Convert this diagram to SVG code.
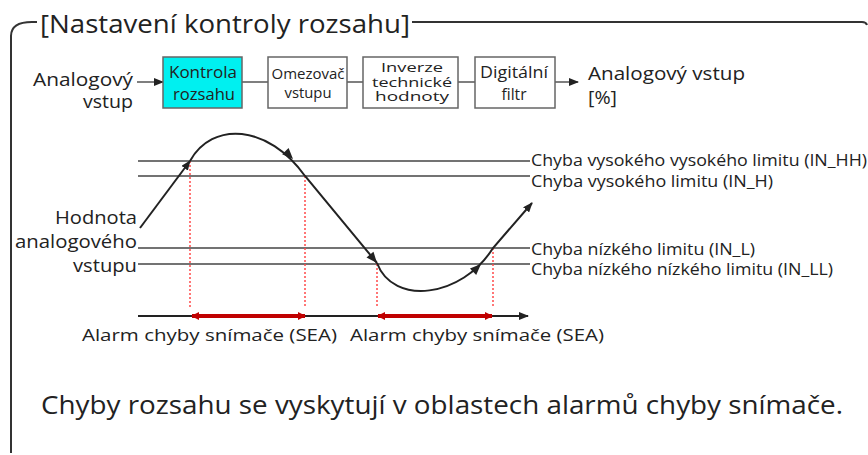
<svg xmlns="http://www.w3.org/2000/svg" width="868" height="455" viewBox="0 0 868 455">
<style>
text{font-family:"Open Sans","Noto Sans","DejaVu Sans",sans-serif;fill:#222}
.box{stroke:#666;stroke-width:1.5;fill:#fff}
.cyan{fill:#00f0f0}
.frame{fill:none;stroke:#333;stroke-width:2}
.conn{stroke:#555;stroke-width:1.5;fill:none}
.lim{stroke:#444;stroke-width:1.5}
.curve{stroke:#222;stroke-width:2;fill:none}
.dash{stroke:#ff4a4a;stroke-width:1.5;stroke-dasharray:2 2}
.sea{stroke:#c00000;stroke-width:4}
.m{text-anchor:middle}
.e{text-anchor:end}
</style>
<defs>
<marker id="ah" markerWidth="10" markerHeight="8" refX="9" refY="4" orient="auto" markerUnits="userSpaceOnUse">
<path d="M0,0 L10,4 L0,8 z" fill="#222"/>
</marker>
<marker id="rh" markerWidth="8" markerHeight="8" refX="7" refY="4" orient="auto-start-reverse" markerUnits="userSpaceOnUse">
<path d="M0,0 L8,4 L0,8 z" fill="#c00000"/>
</marker>
<path id="tri" d="M0,0 L-11,-4.5 L-11,4.5 z" fill="#222"/>
</defs>

<g id="frame">
<path class="frame" d="M11,453 L11,36 Q11,22 32,22 L37,22"/>
<path class="frame" d="M412,22 L862,22 Q866,22 867,25"/>
<text x="40" y="33" font-size="25" textLength="370" lengthAdjust="spacingAndGlyphs">[Nastavení kontroly rozsahu]</text>
</g>

<g id="connectors">
<line class="conn" x1="137" y1="82" x2="163" y2="82" marker-end="url(#ah)"/>
<line class="conn" x1="242" y1="82" x2="268" y2="82"/>
<line class="conn" x1="347" y1="82" x2="363" y2="82"/>
<line class="conn" x1="458" y1="82" x2="475" y2="82"/>
<line class="conn" x1="555" y1="82" x2="578" y2="82" marker-end="url(#ah)"/>
</g>

<g id="input-label">
<text x="33" y="86" font-size="18" textLength="100" lengthAdjust="spacingAndGlyphs">Analogový</text>
<text x="83" y="108" font-size="18" textLength="50" lengthAdjust="spacingAndGlyphs">vstup</text>
</g>
<g id="node-kontrola">
<rect class="box cyan" x="163" y="57" width="79" height="51"/>
<text class="m" x="203" y="78" font-size="17" textLength="68" lengthAdjust="spacingAndGlyphs">Kontrola</text>
<text class="m" x="204" y="100" font-size="17" textLength="62" lengthAdjust="spacingAndGlyphs">rozsahu</text>
</g>
<g id="node-omezovac">
<rect class="box" x="268" y="57" width="79" height="51"/>
<text class="m" x="308" y="79" font-size="14" textLength="73" lengthAdjust="spacingAndGlyphs">Omezovač</text>
<text class="m" x="308" y="98" font-size="14" textLength="47" lengthAdjust="spacingAndGlyphs">vstupu</text>
</g>
<g id="node-inverze">
<rect class="box" x="363" y="57" width="95" height="51"/>
<text class="m" x="412" y="72" font-size="13" textLength="62" lengthAdjust="spacingAndGlyphs">Inverze</text>
<text class="m" x="412" y="87" font-size="13" textLength="80" lengthAdjust="spacingAndGlyphs">technické</text>
<text class="m" x="412" y="101" font-size="13" textLength="74" lengthAdjust="spacingAndGlyphs">hodnoty</text>
</g>
<g id="node-filtr">
<rect class="box" x="475" y="57" width="80" height="51"/>
<text class="m" x="514" y="78" font-size="15.5" textLength="68" lengthAdjust="spacingAndGlyphs">Digitální</text>
<text class="m" x="514" y="100" font-size="15.5" textLength="25" lengthAdjust="spacingAndGlyphs">filtr</text>
</g>
<g id="output-label">
<text x="588" y="80" font-size="19" textLength="157" lengthAdjust="spacingAndGlyphs">Analogový vstup</text>
<text x="588" y="104" font-size="18" textLength="29" lengthAdjust="spacingAndGlyphs">[%]</text>
</g>

<g id="limits">
<line class="lim" x1="138" y1="161" x2="530" y2="161"/>
<line class="lim" x1="138" y1="176" x2="530" y2="176"/>
<line class="lim" x1="138" y1="248" x2="530" y2="248"/>
<line class="lim" x1="138" y1="264" x2="530" y2="264"/>
<text x="531" y="166" font-size="15.5" textLength="336" lengthAdjust="spacingAndGlyphs">Chyba vysokého vysokého limitu (IN_HH)</text>
<text x="531" y="187" font-size="15.5" textLength="242" lengthAdjust="spacingAndGlyphs">Chyba vysokého limitu (IN_H)</text>
<text x="531" y="255" font-size="15.5" textLength="224" lengthAdjust="spacingAndGlyphs">Chyba nízkého limitu (IN_L)</text>
<text x="531" y="275" font-size="15.5" textLength="302" lengthAdjust="spacingAndGlyphs">Chyba nízkého nízkého limitu (IN_LL)</text>
</g>

<g id="value-label">
<text x="55" y="224" font-size="19" textLength="82" lengthAdjust="spacingAndGlyphs">Hodnota</text>
<text x="15" y="248" font-size="19" textLength="122" lengthAdjust="spacingAndGlyphs">analogového</text>
<text x="73" y="272" font-size="19" textLength="64" lengthAdjust="spacingAndGlyphs">vstupu</text>
</g>

<g id="dashes">
<line class="dash" x1="190" y1="161" x2="190" y2="308"/>
<line class="dash" x1="305" y1="176" x2="305" y2="308"/>
<line class="dash" x1="377" y1="264" x2="377" y2="308"/>
<line class="dash" x1="493" y1="248" x2="493" y2="308"/>
</g>

<g id="curve">
<line class="curve" x1="140" y1="228" x2="190" y2="161" marker-end="url(#ah)"/>
<path class="curve" d="M190,161 C212,121 268,124 305,176 L377,263"/>
<use href="#tri" transform="translate(293,159) rotate(46)"/>
<use href="#tri" transform="translate(377,263) rotate(50.4)"/>
<path class="curve" d="M377,263 C393,306 462,298 493,248 L532,203" marker-end="url(#ah)"/>
<use href="#tri" transform="translate(481,264) rotate(-44)"/>
</g>

<g id="time-axis">
<line class="curve" x1="138" y1="316" x2="528" y2="316" stroke-width="1.5" marker-end="url(#ah)"/>
<line class="sea" x1="192" y1="316" x2="305" y2="316" marker-start="url(#rh)" marker-end="url(#rh)"/>
<line class="sea" x1="378" y1="316" x2="492" y2="316" marker-start="url(#rh)" marker-end="url(#rh)"/>
<text x="82" y="341" font-size="17" textLength="255" lengthAdjust="spacingAndGlyphs">Alarm chyby snímače (SEA)</text>
<text x="350" y="341" font-size="17" textLength="254" lengthAdjust="spacingAndGlyphs">Alarm chyby snímače (SEA)</text>
</g>

<g id="note">
<text x="41" y="414" font-size="25" textLength="802" lengthAdjust="spacingAndGlyphs">Chyby rozsahu se vyskytují v oblastech alarmů chyby snímače.</text>
</g>
</svg>
